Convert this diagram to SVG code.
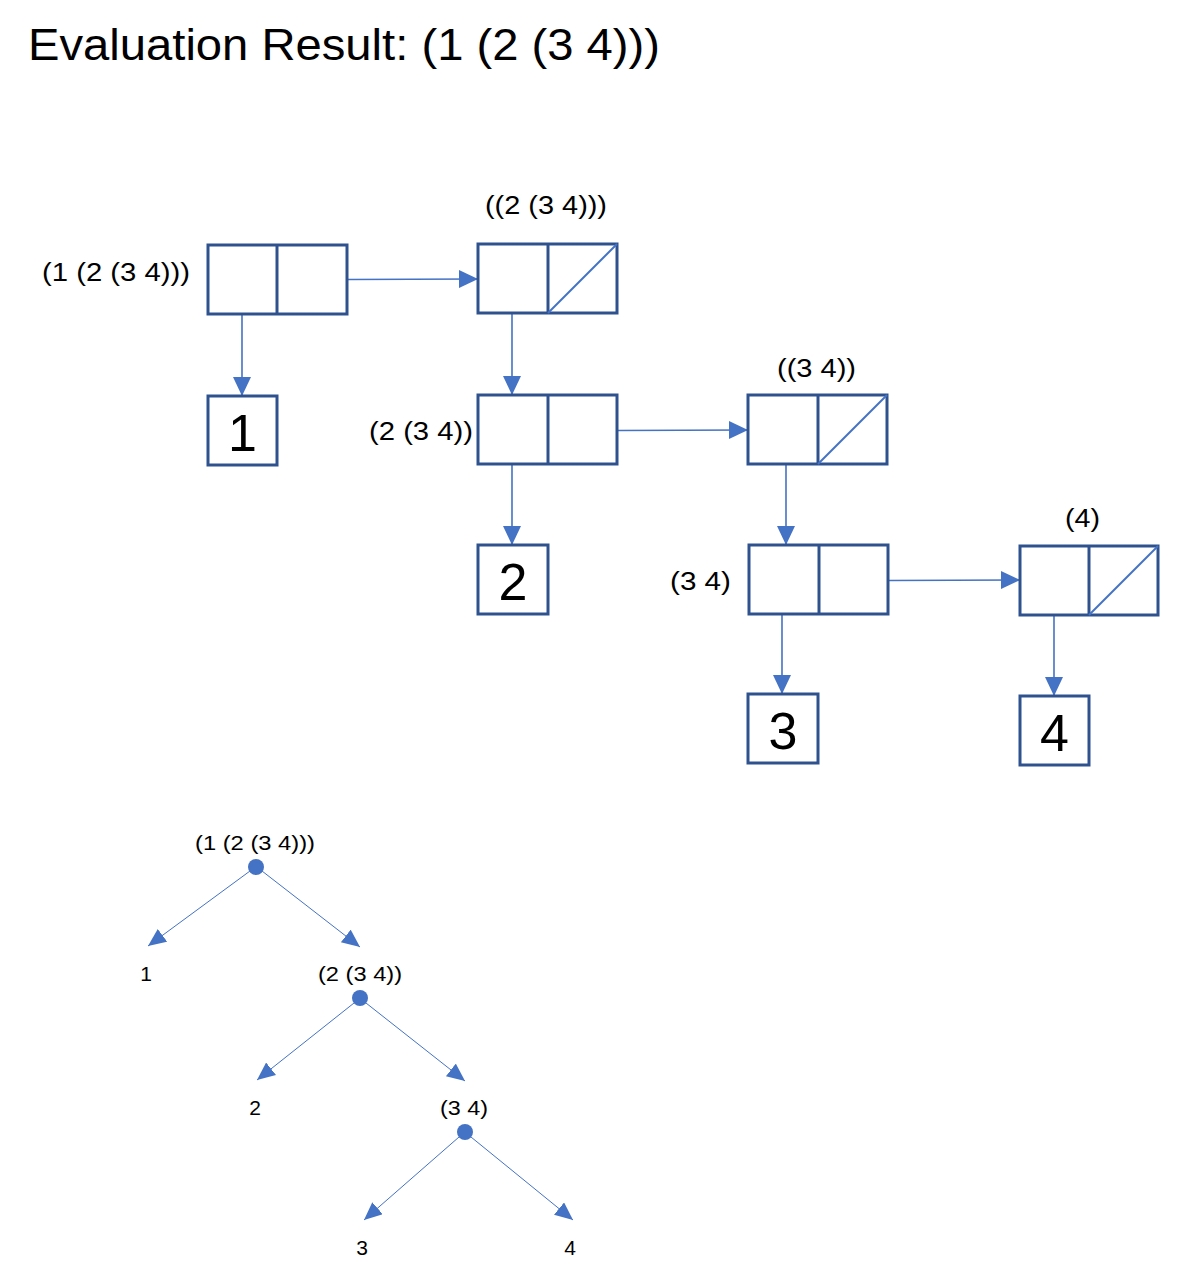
<svg xmlns="http://www.w3.org/2000/svg" width="1194" height="1283" viewBox="0 0 1194 1283">
<style>
.cell{fill:#fff;stroke:#2F528F;stroke-width:3}
.div{stroke:#2F528F;stroke-width:3}
.diag{stroke:#4472C4;stroke-width:2}
.t{font-family:"Liberation Sans",Arial,sans-serif;fill:#000}
.lbl{font-size:25px}
.big{font-size:52px;text-anchor:middle}
.tl{font-size:21px}
.con{stroke:#4472C4;stroke-width:1.6;fill:none;marker-end:url(#ah)}
.tcon{stroke:#4472C4;stroke-width:1;fill:none;marker-end:url(#th)}
.dot{fill:#4472C4}
</style>
<defs>
<marker id="ah" markerUnits="userSpaceOnUse" markerWidth="20" markerHeight="20" refX="19" refY="9" orient="auto">
<path d="M0,0 L19,9 L0,18 z" fill="#4472C4"/>
</marker>
<marker id="th" markerUnits="userSpaceOnUse" markerWidth="20" markerHeight="18" refX="18" refY="8" orient="auto">
<path d="M0,0 L18,8 L0,16 z" fill="#4472C4"/>
</marker>
</defs>
<rect width="1194" height="1283" fill="#fff"/>
<text class="t" x="28" y="60" font-size="44" textLength="632" lengthAdjust="spacingAndGlyphs">Evaluation Result: (1 (2 (3 4)))</text>

<g id="connectors">
<line class="con" x1="347" y1="279.5" x2="478" y2="279"/>
<line class="con" x1="242" y1="314" x2="242" y2="396"/>
<line class="con" x1="512" y1="313" x2="512" y2="395"/>
<line class="con" x1="617" y1="430.5" x2="748" y2="430"/>
<line class="con" x1="512" y1="464" x2="512" y2="545"/>
<line class="con" x1="786" y1="464" x2="786" y2="545"/>
<line class="con" x1="888" y1="580.5" x2="1020" y2="580"/>
<line class="con" x1="782" y1="614" x2="782" y2="694"/>
<line class="con" x1="1054" y1="615" x2="1054" y2="696"/>
<line class="tcon" x1="250" y1="871" x2="148" y2="946"/>
<line class="tcon" x1="262" y1="871" x2="360" y2="947"/>
<line class="tcon" x1="354" y1="1003" x2="257" y2="1080"/>
<line class="tcon" x1="366" y1="1003" x2="465" y2="1081"/>
<line class="tcon" x1="459" y1="1137" x2="364" y2="1220"/>
<line class="tcon" x1="471" y1="1137" x2="573" y2="1220"/>
</g>

<g id="pair1">
<rect class="cell" x="208" y="245" width="139" height="69"/>
<line class="div" x1="277" y1="245" x2="277" y2="314"/>
<text class="t lbl" x="42" y="281" textLength="148" lengthAdjust="spacingAndGlyphs">(1 (2 (3 4)))</text>
</g>
<g id="pair2">
<rect class="cell" x="478" y="244" width="139" height="69"/>
<line class="div" x1="548" y1="244" x2="548" y2="313"/>
<line class="diag" x1="548" y1="313" x2="617" y2="244"/>
<text class="t lbl" x="485" y="214" textLength="122" lengthAdjust="spacingAndGlyphs">((2 (3 4)))</text>
</g>
<g id="atom1">
<rect class="cell" x="208" y="396" width="69" height="69"/>
<text class="t big" x="242.5" y="451">1</text>
</g>
<g id="pair3">
<rect class="cell" x="478" y="395" width="139" height="69"/>
<line class="div" x1="548" y1="395" x2="548" y2="464"/>
<text class="t lbl" x="369" y="440" textLength="104" lengthAdjust="spacingAndGlyphs">(2 (3 4))</text>
</g>
<g id="pair4">
<rect class="cell" x="748" y="395" width="139" height="69"/>
<line class="div" x1="818" y1="395" x2="818" y2="464"/>
<line class="diag" x1="818" y1="464" x2="887" y2="395"/>
<text class="t lbl" x="777" y="377" textLength="79" lengthAdjust="spacingAndGlyphs">((3 4))</text>
</g>
<g id="atom2">
<rect class="cell" x="478" y="545" width="70" height="69"/>
<text class="t big" x="513" y="600">2</text>
</g>
<g id="pair5">
<rect class="cell" x="749" y="545" width="139" height="69"/>
<line class="div" x1="819" y1="545" x2="819" y2="614"/>
<text class="t lbl" x="670" y="590" textLength="61" lengthAdjust="spacingAndGlyphs">(3 4)</text>
</g>
<g id="pair6">
<rect class="cell" x="1020" y="546" width="138" height="69"/>
<line class="div" x1="1089" y1="546" x2="1089" y2="615"/>
<line class="diag" x1="1089" y1="615" x2="1158" y2="546"/>
<text class="t lbl" x="1065" y="527" textLength="35" lengthAdjust="spacingAndGlyphs">(4)</text>
</g>
<g id="atom3">
<rect class="cell" x="748" y="694" width="70" height="69"/>
<text class="t big" x="783" y="749">3</text>
</g>
<g id="atom4">
<rect class="cell" x="1020" y="696" width="69" height="69"/>
<text class="t big" x="1054.5" y="751">4</text>
</g>

<g id="tree1">
<circle class="dot" cx="256" cy="867" r="8"/>
<text class="t tl" x="195" y="850" textLength="120" lengthAdjust="spacingAndGlyphs">(1 (2 (3 4)))</text>
</g>
<g id="leaf1"><text class="t tl" x="146" y="981" text-anchor="middle">1</text></g>
<g id="tree2">
<circle class="dot" cx="360" cy="998" r="8"/>
<text class="t tl" x="318" y="981" textLength="84" lengthAdjust="spacingAndGlyphs">(2 (3 4))</text>
</g>
<g id="leaf2"><text class="t tl" x="255" y="1115" text-anchor="middle">2</text></g>
<g id="tree3">
<circle class="dot" cx="465" cy="1132" r="8"/>
<text class="t tl" x="440" y="1115" textLength="48" lengthAdjust="spacingAndGlyphs">(3 4)</text>
</g>
<g id="leaf3"><text class="t tl" x="362" y="1255" text-anchor="middle">3</text></g>
<g id="leaf4"><text class="t tl" x="570" y="1255" text-anchor="middle">4</text></g>
</svg>
